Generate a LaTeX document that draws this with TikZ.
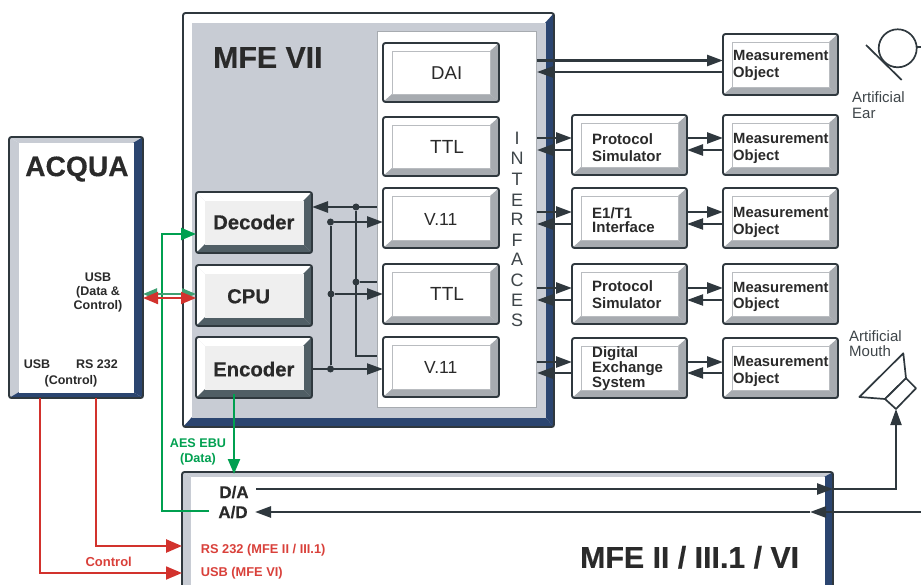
\documentclass[tikz,border=0pt]{standalone}
\usepackage{fontspec}
\setmainfont{Liberation Sans}
\newfontfamily\heavy[BoldFeatures={FakeBold=0.35}]{Liberation Sans}
\usetikzlibrary{arrows.meta,calc}
\definecolor{navy}{HTML}{2B4570}
\definecolor{band}{HTML}{C8CCD4}
\definecolor{ink}{HTML}{2F383E}
\definecolor{txt}{HTML}{2A2A2A}
\definecolor{soft}{HTML}{3E4549}
\definecolor{slate}{HTML}{505E65}
\definecolor{steel}{HTML}{A7ABB0}
\definecolor{pale}{HTML}{EFEFEF}
\definecolor{grn}{HTML}{00A050}
\definecolor{grnl}{HTML}{3F9F72}
\definecolor{rd}{HTML}{D2322D}
\definecolor{rdt}{HTML}{D9403A}
\tikzset{
  frame/.style={draw=ink,line width=1.9pt,rounded corners=2.5pt,inner sep=0pt,outer sep=0pt},
  thickarrow/.style={draw=ink,line width=2.6pt,-{Triangle[length=16pt,width=11pt]}},
  thinarrow/.style={draw=ink,line width=2pt,-{Triangle[length=16pt,width=11pt]}},
  wire/.style={draw=ink,line width=2pt},
  junction/.style={circle,fill=ink,inner sep=0pt,minimum size=7pt},
  greenarrow/.style={draw=grn,line width=2.4pt,-{Triangle[length=15pt,width=12pt]}},
  redarrow/.style={draw=rd,line width=2.6pt,-{Triangle[length=16pt,width=13pt]}},
  redthin/.style={draw=rd,line width=1.8pt,-{Triangle[length=16pt,width=13pt]}},
}
% colours of the next bevelled boxes: face, left, top, right, bottom, face outline
\newcommand\setbev[6]{\def\cF{#1}\def\cL{#2}\def\cT{#3}\def\cR{#4}\def\cB{#5}\def\cO{#6}}
% name x1 y1 x2 y2 insetx insety
\newcommand\bevel[7]{%
  \fill[\cL] (#2,#3) -- ($(#2,#3)+(#6,#7)$) -- ($(#2,#5)+(#6,-#7)$) -- (#2,#5) -- cycle;
  \fill[\cT] (#2,#3) -- ($(#2,#3)+(#6,#7)$) -- ($(#4,#3)+(-#6,#7)$) -- (#4,#3) -- cycle;
  \fill[\cR] (#4,#3) -- ($(#4,#3)+(-#6,#7)$) -- ($(#4,#5)+(-#6,-#7)$) -- (#4,#5) -- cycle;
  \fill[\cB] (#2,#5) -- ($(#2,#5)+(#6,-#7)$) -- ($(#4,#5)+(-#6,-#7)$) -- (#4,#5) -- cycle;
  \path[fill=\cF,draw=\cO,line width=.8pt] ($(#2,#3)+(#6,#7)$) rectangle ($(#4,#5)+(-#6,-#7)$);
  \pgfmathsetmacro\bw{#4-#2}\pgfmathsetmacro\bh{#5-#3}%
  \node[frame,minimum width=\bw pt,minimum height=\bh pt] (#1) at ($(#2,#3)!.5!(#4,#5)$) {};
}
% anchor name x ycentre size style text
\newcommand\lbl[7]{%
  \pgfmathsetmacro\yb{#4+0.36*#5}%
  \node[anchor=#1,inner sep=0pt,text depth=0pt,#6] (#2) at (#3,\yb) {\fontsize{#5pt}{#5pt}\selectfont #7};
}
\newcommand\bftxt[6]{\lbl{base west}{#1}{#2}{#3}{#4}{text=#5}{\bfseries #6}}
\newcommand\hvtxt[6]{\lbl{base west}{#1}{#2}{#3}{#4}{text=#5}{\heavy\bfseries #6}}
\begin{document}
\begin{tikzpicture}[x=1pt,y=-1pt]
\useasboundingbox (0,0) rectangle (921,585);
\clip (0,0) rectangle (921,585);

% main units
\setbev{band}{white}{white}{navy}{navy}{band}
\bevel{mfe}{183}{13}{554}{427}{9}{10}
\setbev{white}{band}{band}{navy}{navy}{white}
\bevel{acqua}{9}{137}{143}{398}{10}{6}
\bevel{bot}{182}{472}{833}{600}{9}{5}
\node[draw=steel,fill=white,line width=1pt,minimum width=159pt,minimum height=375pt,inner sep=0pt] (panel) at (456.5,219.5) {};

% interface boxes
\setbev{white}{white}{white}{steel}{steel}{steel!80}
\bevel{dai}{383}{43}{499}{102}{9}{8}
\bevel{ttla}{383}{117}{499}{176}{9}{8}
\bevel{va}{383}{188}{499}{248}{9}{8}
\bevel{ttlb}{383}{264}{499}{324}{9}{8}
\bevel{vb}{383}{337}{499}{397}{9}{8}
% simulators
\bevel{pa}{572}{115}{687}{175}{9}{8}
\bevel{ea}{572}{188}{687}{248}{9}{8}
\bevel{pb}{572}{264}{687}{324}{9}{8}
\bevel{dx}{572}{338}{687}{398}{9}{8}
% measurement objects
\bevel{moa}{723}{34}{838}{95}{9}{8}
\bevel{mob}{723}{115}{838}{175}{9}{8}
\bevel{moc}{723}{188}{838}{248}{9}{8}
\bevel{mod}{723}{264}{838}{324}{9}{8}
\bevel{moe}{723}{338}{838}{398}{9}{8}
% processing blocks
\setbev{pale}{white}{white}{slate}{slate}{pale}
\bevel{dec}{196}{192}{312}{253}{9}{9}
\bevel{cpu}{196}{265}{312}{326}{9}{9}
\bevel{enc}{196}{337}{312}{398}{9}{9}

% titles and labels
\hvtxt{tmfe}{213}{57}{30.3}{txt}{MFE VII}
\hvtxt{tacq}{25}{166}{28.2}{txt}{ACQUA}
\hvtxt{tbot}{580}{557}{30.3}{txt}{MFE II / III.1 / VI}
\hvtxt{tdec}{213}{222}{20.3}{txt}{Decoder}
\hvtxt{tcpu}{227}{296}{20.3}{txt}{CPU}
\hvtxt{tenc}{213}{369}{20.3}{txt}{Encoder}
\lbl{base west}{tdai}{431}{73}{18.6}{text=txt}{DAI}
\lbl{base west}{tta}{430}{147}{19}{text=txt}{TTL}
\lbl{base west}{tva}{424}{219}{17.5}{text=txt}{V.11}
\lbl{base west}{ttb}{430}{294}{19}{text=txt}{TTL}
\lbl{base west}{tvb}{424}{367}{17.5}{text=txt}{V.11}
\lbl{base}{if1}{517}{138}{18}{text=soft}{I}
\lbl{base}{if2}{517}{158}{18}{text=soft}{N}
\lbl{base}{if3}{517}{179}{18}{text=soft}{T}
\lbl{base}{if4}{517}{200}{18}{text=soft}{E}
\lbl{base}{if5}{517}{219}{18}{text=soft}{R}
\lbl{base}{if6}{517}{240}{18}{text=soft}{F}
\lbl{base}{if7}{517}{259}{18}{text=soft}{A}
\lbl{base}{if8}{517}{280}{18}{text=soft}{C}
\lbl{base}{if9}{517}{300}{18}{text=soft}{E}
\lbl{base}{if10}{517}{320}{18}{text=soft}{S}
\bftxt{ma1}{733}{55}{14.8}{txt}{Measurement}
\bftxt{ma2}{733}{72}{14.8}{txt}{Object}
\bftxt{mb1}{733}{138}{14.8}{txt}{Measurement}
\bftxt{mb2}{733}{155}{14.8}{txt}{Object}
\bftxt{mc1}{733}{212}{14.8}{txt}{Measurement}
\bftxt{mc2}{733}{229}{14.8}{txt}{Object}
\bftxt{md1}{733}{287}{14.8}{txt}{Measurement}
\bftxt{md2}{733}{303}{14.8}{txt}{Object}
\bftxt{me1}{733}{361}{14.8}{txt}{Measurement}
\bftxt{me2}{733}{378}{14.8}{txt}{Object}
\bftxt{pa1}{592}{139}{15}{txt}{Protocol}
\bftxt{pa2}{592}{156}{15}{txt}{Simulator}
\bftxt{ea1}{592}{213}{15}{txt}{E1/T1}
\bftxt{ea2}{592}{227}{15}{txt}{Interface}
\bftxt{pb1}{592}{286}{15}{txt}{Protocol}
\bftxt{pb2}{592}{303}{15}{txt}{Simulator}
\bftxt{dx1}{592}{352.5}{15}{txt}{Digital}
\bftxt{dx2}{592}{367.5}{15}{txt}{Exchange}
\bftxt{dx3}{592}{382}{15}{txt}{System}
\lbl{base west}{ear1}{852}{97}{15}{text=soft}{Artificial}
\lbl{base west}{ear2}{852}{113}{15}{text=soft}{Ear}
\lbl{base west}{mou1}{849}{336}{15}{text=soft}{Artificial}
\lbl{base west}{mou2}{849}{351}{15}{text=soft}{Mouth}
\lbl{base}{u1}{98}{277}{12.5}{text=txt}{\bfseries USB}
\lbl{base}{u2}{98}{291}{12.5}{text=txt}{\bfseries (Data \&}
\lbl{base}{u3}{98}{305}{12.5}{text=txt}{\bfseries Control)}
\lbl{base}{u4}{37}{364}{12.5}{text=txt}{\bfseries USB}
\lbl{base}{u5}{97}{364}{12.5}{text=txt}{\bfseries RS 232}
\lbl{base}{u6}{71}{380}{12.5}{text=txt}{\bfseries (Control)}
\lbl{base}{aes}{198}{443}{12.6}{text=grn}{\bfseries AES EBU}
\lbl{base}{data}{198}{458}{12.6}{text=grn}{\bfseries (Data)}
\lbl{base}{da}{234}{492}{17}{text=txt}{\heavy\bfseries D/A}
\lbl{base}{ad}{233}{512}{17}{text=txt}{\heavy\bfseries A/D}
\bftxt{rs}{200.7}{549}{12.8}{rdt}{RS 232 (MFE II / III.1)}
\bftxt{usbm}{200.7}{572}{12.8}{rdt}{USB (MFE VI)}
\lbl{base}{ctl}{108.7}{562}{13}{text=rdt}{\bfseries Control}

% interface side connectors
\coordinate (ifedge) at (537,0);
\draw[thickarrow] (ifedge |- 0,60.5) -- (moa.west |- 0,60.5);
\draw[thinarrow]  (moa.west |- 0,72) -- (ifedge |- 0,72);
\draw[thickarrow] (ifedge |- 0,138) -- (pa.west |- 0,138);
\draw[thickarrow] (pa.west |- 0,150) -- (ifedge |- 0,150);
\draw[thickarrow] (ifedge |- 0,212) -- (ea.west |- 0,212);
\draw[thinarrow]  (ea.west |- 0,224) -- (ifedge |- 0,224);
\draw[thickarrow] (ifedge |- 0,288) -- (pb.west |- 0,288);
\draw[thinarrow]  (pb.west |- 0,300) -- (ifedge |- 0,300);
\draw[thickarrow] (ifedge |- 0,362) -- (dx.west |- 0,362);
\draw[thickarrow] (dx.west |- 0,373) -- (ifedge |- 0,373);
\draw[thickarrow] (pa.east |- 0,138) -- (mob.west |- 0,138);
\draw[thickarrow] (mob.west |- 0,150) -- (pa.east |- 0,150);
\draw[thickarrow] (ea.east |- 0,212) -- (moc.west |- 0,212);
\draw[thinarrow]  (moc.west |- 0,224) -- (ea.east |- 0,224);
\draw[thickarrow] (pb.east |- 0,288) -- (mod.west |- 0,288);
\draw[thinarrow]  (mod.west |- 0,300) -- (pb.east |- 0,300);
\draw[thickarrow] (dx.east |- 0,362) -- (moe.west |- 0,362);
\draw[thinarrow]  (moe.west |- 0,373) -- (dx.east |- 0,373);

% internal bus
\node[junction] (ja) at (356,207) {};
\node[junction] (jb) at (356,282) {};
\node[junction] (jc) at (330.5,222) {};
\node[junction] (jd) at (331,294) {};
\node[junction] (je) at (330.5,369) {};
\draw[thickarrow] (panel.west |- ja) -- (dec.east |- ja);
\draw[wire,line width=2.4pt] (ja) -- (ja |- 0,356) -- (panel.west |- 0,356);
\draw[wire] (jb) -- (panel.west |- jb);
\draw[wire] (jc) -- (je);
\draw[thickarrow] (jc) -- (va.west |- jc);
\draw[thickarrow] (jd) -- (ttlb.west |- jd);
\draw[thinarrow] (enc.east |- je) -- (vb.west |- je);

% green connectors
\coordinate (gturn) at (162,511);
\draw[greenarrow,shorten <=9pt] (ad.west |- gturn) -- (gturn) -- (gturn |- 0,234) -- (dec.west |- 0,234);
\draw[greenarrow] (enc.south -| 234,0) ++(0,-4) -- (234,474);
\draw[draw=grnl,line width=2.2pt,{Triangle[length=14pt,width=11pt]}-{Triangle[length=14pt,width=11pt]}] (acqua.east |- 0,294) -- (cpu.west |- 0,294);
\draw[draw=rd,line width=2pt,{Triangle[length=15pt,width=12pt]}-{Triangle[length=15pt,width=12pt]}] (acqua.east |- 0,298) -- (cpu.west |- 0,298);

% red control lines
\draw[redthin] (acqua.south -| 40,0) -- (40,573) -- (bot.west |- 0,573);
\draw[redarrow] (acqua.south -| 96,0) -- (96,546) -- (bot.west |- 0,546);

% D/A and A/D
\coordinate (mouthin) at (896,409);
\coordinate (adright) at (921,512);
\coordinate (dastart) at (256,489);
\draw[thickarrow] (dastart) -- (bot.east |- dastart);
\draw[wire,-{Triangle[length=16pt,width=11pt]}] (bot.east |- dastart) -- (mouthin |- dastart) -- (mouthin);
\draw[wire] (adright) -- (bot.east |- adright);
\coordinate (adhead) at (810,512);
\draw[thickarrow] (bot.east |- adright) -- (adhead);
\draw[thickarrow] (adhead) -- (255,512);

% artificial ear
\draw[ink,line width=1.7pt] (897.7,48.3) circle (19);
\draw[ink,line width=1.7pt] (866,45) -- (901.7,80);
\draw[ink,line width=1.7pt] (916.7,47.3) -- (921,47.3);
% artificial mouth
\draw[ink,line width=1.7pt,line join=round,fill=white] (859.3,397) -- (903.3,353.3) -- (906,378.3) -- (885,399) -- cycle;
\draw[ink,line width=1.7pt,line join=round,fill=white] (906,378.3) -- (916,388.3) -- (896,409) -- (885,399) -- cycle;
\end{tikzpicture}
\end{document}
